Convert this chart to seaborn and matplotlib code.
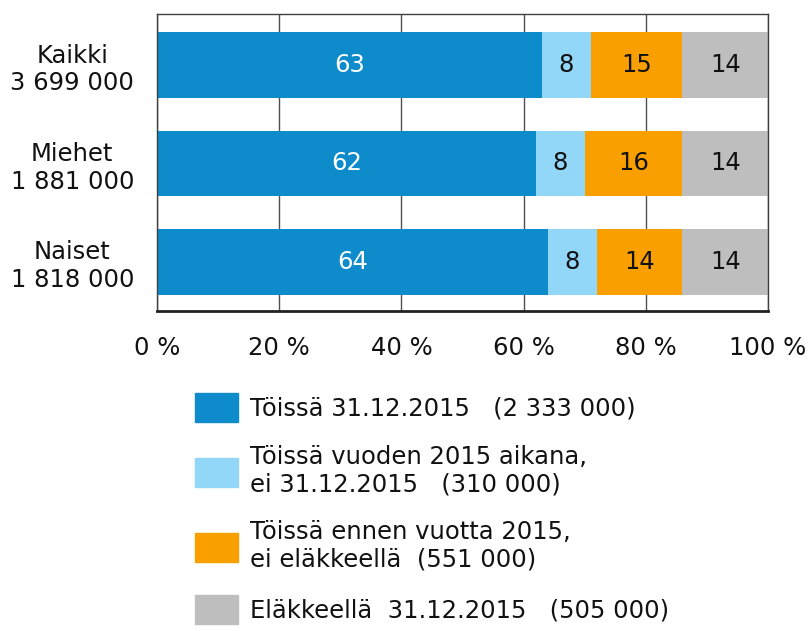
import numpy as np
import matplotlib
matplotlib.use("Agg")
import matplotlib.pyplot as plt
import seaborn as sns
import pandas as pd

# data
groups = ["Kaikki\n3 699 000", "Miehet\n1 881 000", "Naiset\n1 818 000"]
toissa_3112 = [63, 62, 64]
toissa_vuoden = [8, 8, 8]
toissa_ennen = [15, 16, 14]
elakkeella = [14, 14, 14]

series_labels = [
    "Töissä 31.12.2015   (2 333 000)",
    "Töissä vuoden 2015 aikana,\nei 31.12.2015   (310 000)",
    "Töissä ennen vuotta 2015,\nei eläkkeellä  (551 000)",
    "Eläkkeellä  31.12.2015   (505 000)",
]
colors = ["#0E8BCB", "#92D7F7", "#F9A000", "#BEBEBE"]
text_colors = ["white", "#111111", "#111111", "#111111"]

sns.set_theme(style="white")
plt.rcParams["font.family"] = ["DejaVu Sans"]
plt.rcParams["text.color"] = "#111111"
plt.rcParams["xtick.color"] = "#111111"
plt.rcParams["ytick.color"] = "#111111"
fs = 17.5

df = pd.DataFrame({"group": groups, "s1": toissa_3112, "s2": toissa_vuoden,
                   "s3": toissa_ennen, "s4": elakkeella})
cols = ["s1", "s2", "s3", "s4"]
cum = df[cols].cumsum(axis=1)

fig = plt.figure(figsize=(8.11, 6.31), dpi=100)
ax = fig.add_axes([157/811, 1-311/631, (768-157)/811, (311-14)/631])

# stacked bars: draw totals first, then overlay smaller cumulative sums
for i in range(3, -1, -1):
    sns.barplot(x=cum[cols[i]], y=df["group"], color=colors[i], orient="h",
                width=0.67, saturation=1, ax=ax, linewidth=0)

# value labels in the middle of each segment
for i, c in enumerate(cols):
    left = cum[c] - df[c]
    for j in range(len(df)):
        ax.text(left[j] + df[c][j] / 2, j, str(df[c][j]), ha="center", va="center",
                color=text_colors[i], fontsize=fs)

ax.set_xlim(0, 100)
ax.set_ylim(2.5, -0.52)
ax.set_xticks([0, 20, 40, 60, 80, 100])
ax.set_xticklabels([f"{t} %" for t in [0, 20, 40, 60, 80, 100]], fontsize=fs)
ax.set_xlabel("")
ax.set_ylabel("")
ax.set_yticks(range(len(groups)))
ax.set_yticklabels(groups, fontsize=fs, multialignment="center", ha="center")
ax.tick_params(axis="y", length=0, pad=61)
ax.tick_params(axis="x", length=8, width=1, color="#404040", direction="out", pad=10)
ax.xaxis.grid(True, color="#505050", linewidth=1)
ax.set_axisbelow(True)
for s in ["top", "right", "left"]:
    ax.spines[s].set_color("#404040")
    ax.spines[s].set_linewidth(1)
ax.spines["bottom"].set_color("#222222")
ax.spines["bottom"].set_linewidth(2)

handles = [plt.Rectangle((0, 0), 1, 1, color=c) for c in colors]
fig.legend(handles, series_labels, loc="upper left", bbox_to_anchor=(183/811, 1-381/631),
           frameon=False, fontsize=fs, handlelength=1.75, handleheight=1.45,
           handletextpad=0.5, labelspacing=0.95, borderpad=0)

fig.savefig("out.png", dpi=100)
